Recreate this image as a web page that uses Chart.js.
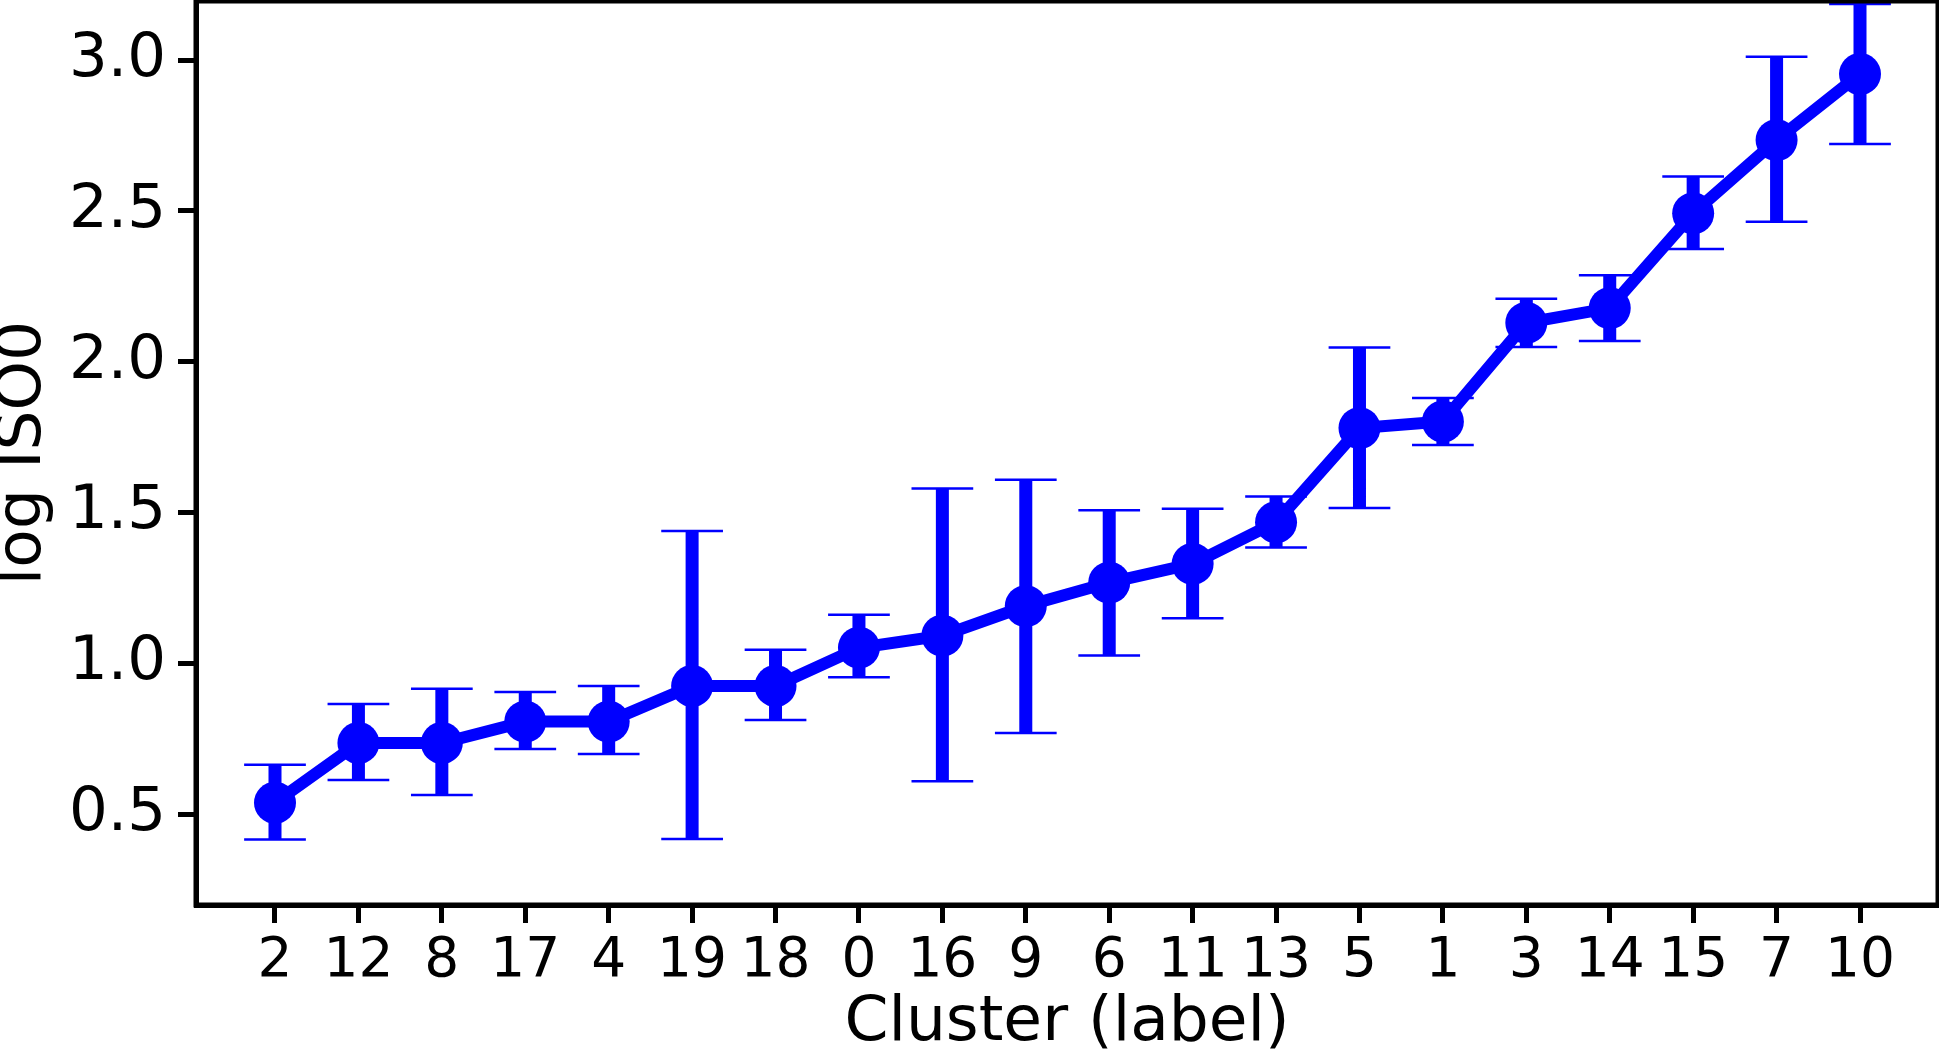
<!DOCTYPE html>
<html>
<head>
<meta charset="utf-8">
<script src="https://cdn.jsdelivr.net/npm/chart.js@4/dist/chart.umd.min.js"></script>
<style>
  html, body { margin: 0; padding: 0; background: #fff; }
  canvas { display: block; }
</style>
</head>
<body>
<canvas id="myPointChart" width="1939" height="1052"></canvas>
<script>
"use strict";

// clusters, sorted by mean
var categories = ['2', '12', '8', '17', '4', '19', '18', '0', '16', '9', '6', '11', '13', '5', '1', '3', '14', '15', '7', '10'];
var means = [0.538, 0.736, 0.736, 0.807, 0.807, 0.925, 0.925, 1.052, 1.092, 1.190, 1.268, 1.330, 1.468, 1.780, 1.802, 2.129, 2.178, 2.492, 2.735, 2.954];
var lower = [0.416, 0.613, 0.564, 0.716, 0.700, 0.418, 0.812, 0.954, 0.609, 0.769, 1.026, 1.150, 1.384, 1.515, 1.724, 2.049, 2.069, 2.374, 2.464, 2.722];
var upper = [0.664, 0.865, 0.916, 0.905, 0.925, 1.439, 1.045, 1.161, 1.580, 1.609, 1.508, 1.513, 1.553, 2.047, 1.880, 2.209, 2.287, 2.614, 3.011, 3.186];
var yTicks = [0.5, 1.0, 1.5, 2.0, 2.5, 3.0];

var BLUE = '#0000ff';
var FONT = "'DejaVu Sans', sans-serif";
var CAP = 0.37;

fnPointChart();

function fnPointChart() {
    var meanPts = [];
    var barPts = [];
    var capPts = [];
    for (var i = 0; i < categories.length; i++) {
        meanPts.push({x: i, y: means[i]});
        // vertical bar, then a gap
        barPts.push({x: i, y: lower[i]}, {x: i, y: upper[i]}, {x: i, y: null});
        // top and bottom caps
        capPts.push({x: i - CAP, y: upper[i]}, {x: i + CAP, y: upper[i]}, {x: i, y: null});
        capPts.push({x: i - CAP, y: lower[i]}, {x: i + CAP, y: lower[i]}, {x: i, y: null});
    }

    // draws the top and right spines
    var frame = {
        id: 'frame',
        afterDraw: function (chart) {
            var a = chart.chartArea;
            var ctx = chart.ctx;
            ctx.save();
            ctx.strokeStyle = '#000';
            ctx.lineWidth = 5;
            ctx.strokeRect(a.left, a.top, a.right - a.left, a.bottom - a.top);
            ctx.restore();
        }
    };

    var ctx = document.getElementById('myPointChart').getContext('2d');
    var chart = new Chart(ctx, {
        type: 'line',
        data: {
            datasets: [{
                label: 'mean',
                data: meanPts,
                borderColor: BLUE,
                backgroundColor: BLUE,
                borderWidth: 12,
                pointRadius: 21,
                pointBorderWidth: 0,
                pointBackgroundColor: BLUE
            }, {
                label: 'ci',
                data: barPts,
                borderColor: BLUE,
                borderWidth: 13,
                pointRadius: 0,
                spanGaps: false
            }, {
                label: 'caps',
                data: capPts,
                borderColor: BLUE,
                borderWidth: 2.5,
                pointRadius: 0,
                spanGaps: false
            }]
        },
        options: {
            responsive: false,
            animation: false,
            devicePixelRatio: 1,
            layout: {autoPadding: false, padding: {top: 1, right: 1, left: 0, bottom: 0}},
            plugins: {
                legend: {display: false},
                tooltip: {enabled: false}
            },
            scales: {
                x: {
                    type: 'linear',
                    min: -0.947,
                    max: 19.935,
                    afterBuildTicks: function (scale) {
                        scale.ticks = categories.map(function (c, i) { return {value: i}; });
                    },
                    afterFit: function (scale) {
                        scale.height = 147;
                        scale.paddingLeft = 0;
                        scale.paddingRight = 0;
                    },
                    ticks: {
                        autoSkip: false,
                        maxRotation: 0,
                        padding: 6,
                        color: '#000',
                        font: {family: FONT, size: 55},
                        callback: function (v) { return categories[v]; }
                    },
                    grid: {drawOnChartArea: false, tickLength: 18, tickWidth: 5, tickColor: '#000'},
                    border: {display: true, color: '#000', width: 5},
                    title: {
                        display: true,
                        text: 'Cluster (label)',
                        color: '#000',
                        font: {family: FONT, size: 63, lineHeight: 1},
                        padding: {top: 0, bottom: -3}
                    }
                },
                y: {
                    type: 'linear',
                    min: 0.199,
                    max: 3.196,
                    afterBuildTicks: function (scale) {
                        scale.ticks = yTicks.map(function (v) { return {value: v}; });
                    },
                    afterFit: function (scale) {
                        scale.width = 196;
                        scale.paddingTop = 0;
                        scale.paddingBottom = 0;
                    },
                    ticks: {
                        padding: 12,
                        color: '#000',
                        font: {family: FONT, size: 61},
                        callback: function (v) { return v.toFixed(1); }
                    },
                    grid: {drawOnChartArea: false, tickLength: 18, tickWidth: 5, tickColor: '#000'},
                    border: {display: true, color: '#000', width: 5},
                    title: {
                        display: true,
                        text: 'log ISO0',
                        color: '#000',
                        font: {family: FONT, size: 63, lineHeight: 1},
                        padding: {top: -8, bottom: 0}
                    }
                }
            }
        },
        plugins: [frame]
    });
}
</script>
</body>
</html>
